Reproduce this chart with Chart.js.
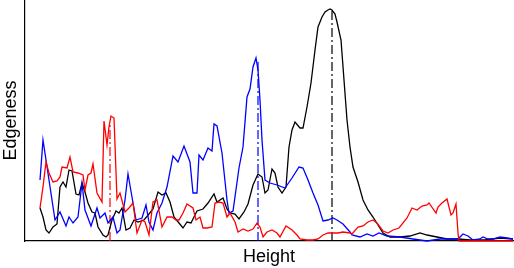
<!DOCTYPE html>
<html>
<head>
<meta charset="utf-8">
<script src="https://cdn.jsdelivr.net/npm/chart.js@4.4.1/dist/chart.umd.min.js"></script>
<style>
    html, body { margin: 0; padding: 0; background: #fff; }
    #wrap { width: 514px; height: 268px; }
</style>
</head>
<body>
<div id="wrap"><canvas id="edgeChart" width="514" height="268"></canvas></div>
<script>
// readings: height / edgeness for each curve
const blackHeight = [15, 18, 21, 24, 28, 32, 35, 38, 41, 44, 47, 51, 54, 57, 60, 63, 67, 70, 73, 78, 81, 83, 87, 91, 94, 97, 101, 105, 109, 113, 119, 124, 128, 133, 137, 141, 145, 149, 154, 158, 162, 166, 172, 178, 183, 189, 192, 198, 202, 205, 210, 214, 219, 223, 228, 233, 237, 240, 243, 247, 250, 253, 257, 261, 264, 267, 270, 275, 278, 282, 286, 290, 293, 297, 300, 303, 305, 307, 310, 312, 316, 319, 322, 325, 328, 333, 338, 343, 348, 353, 358, 365, 375, 385, 395, 402, 412, 422, 433, 445, 460, 475, 488];
const blackEdge = [33, 24, 11, 8, 14, 17, 54, 59, 54, 71, 70, 47, 46, 58, 49, 38, 29, 28, 14, 6, 4, 6, 21, 30, 28, 33, 11, 13, 21, 19, 21, 27, 32, 49, 46, 48, 39, 24, 18, 13, 19, 18, 30, 32, 38, 47, 39, 43, 32, 28, 27, 22, 29, 37, 56, 67, 64, 48, 51, 72, 68, 54, 48, 54, 94, 111, 119, 113, 113, 134, 158, 191, 214, 224, 229, 231, 232, 231, 227, 219, 201, 161, 121, 94, 74, 59, 41, 31, 24, 16, 8, 4, 4, 5, 8, 6, 4, 2, 2, 1, 1, 3, 2];

const blueHeight = [15, 18, 30, 35, 41, 44, 48, 53, 57, 60, 66, 72, 75, 80, 83, 88, 92, 95, 100, 103, 107, 111, 117, 121, 124, 128, 132, 137, 142, 148, 153, 159, 165, 168, 172, 174, 178, 183, 187, 189, 192, 197, 202, 204, 208, 214, 218, 222, 225, 228, 231, 233, 235, 237, 240, 245, 252, 260, 267, 274, 278, 283, 288, 293, 298, 303, 308, 312, 318, 325, 327, 335, 342, 348, 354, 362, 375, 388, 402, 415, 425, 433, 438, 443, 448, 455, 458, 463, 468, 475, 482, 488];
const blueEdge = [61, 101, 21, 29, 15, 24, 18, 24, 58, 31, 15, 33, 23, 28, 18, 24, 8, 11, 41, 67, 44, 21, 23, 36, 19, 11, 28, 38, 54, 85, 79, 95, 79, 48, 48, 86, 81, 93, 90, 117, 115, 88, 41, 28, 30, 73, 94, 144, 152, 174, 183, 171, 141, 101, 61, 58, 56, 53, 63, 74, 73, 61, 48, 36, 20, 21, 23, 21, 17, 9, 6, 4, 7, 5, 8, 5, 4, 2, 0, 2, 2, 2, 7, 5, 1, 2, 4, 2, 2, 4, 3, 2];

const redHeight = [15, 18, 21, 24, 28, 32, 35, 37, 42, 45, 48, 53, 58, 60, 63, 66, 68, 72, 77, 79, 82, 84, 86, 89, 92, 95, 100, 104, 108, 112, 117, 120, 124, 128, 132, 137, 142, 147, 151, 154, 158, 162, 168, 171, 175, 178, 182, 187, 190, 194, 198, 202, 205, 210, 213, 218, 223, 228, 232, 235, 238, 242, 247, 252, 255, 261, 267, 272, 275, 282, 288, 293, 298, 303, 308, 313, 318, 325, 327, 333, 338, 343, 348, 352, 358, 363, 368, 374, 382, 387, 392, 397, 402, 404, 411, 413, 417, 422, 426, 428, 431, 433, 434, 488];
const redEdge = [33, 54, 79, 68, 59, 60, 64, 74, 73, 84, 69, 68, 66, 51, 66, 68, 77, 48, 39, 120, 96, 114, 125, 123, 42, 48, 29, 33, 38, 8, 21, 19, 6, 39, 41, 14, 24, 24, 21, 21, 28, 37, 33, 21, 24, 13, 13, 14, 38, 39, 38, 24, 28, 19, 9, 12, 10, 12, 18, 14, 4, 9, 11, 8, 4, 15, 11, 6, 2, 1, 1, 2, 6, 8, 8, 8, 9, 8, 7, 14, 15, 19, 21, 18, 10, 8, 11, 13, 23, 33, 31, 35, 36, 38, 28, 34, 38, 42, 26, 28, 37, 8, 0, 0];

// peak markers: [height, top of marker]
const redPeak = [85, 116];
const bluePeak = [233, 181];
const blackPeak = [307, 231];

function toPoints(xs, ys) {
    return xs.map((x, i) => ({ x: x, y: ys[i] }));
}

function peakLine(peak, color) {
    return {
        data: [{ x: peak[0], y: 0 }, { x: peak[0], y: peak[1] }],
        borderColor: color,
        borderWidth: 1.2,
        borderDash: [9, 3, 2, 3],
        pointRadius: 0,
        fill: false
    };
}

function curve(xs, ys, color) {
    return {
        data: toPoints(xs, ys),
        borderColor: color,
        borderWidth: 1.3,
        pointRadius: 0,
        tension: 0,
        fill: false,
        clip: 3
    };
}

const ctx = document.getElementById('edgeChart');
new Chart(ctx, {
    type: 'line',
    data: {
        datasets: [
            curve(redHeight, redEdge, '#ff0000'),
            curve(blueHeight, blueEdge, '#0000ff'),
            curve(blackHeight, blackEdge, '#000000'),
            peakLine(redPeak, '#ff0000'),
            peakLine(bluePeak, '#0000ff'),
            peakLine(blackPeak, '#000000')
        ]
    },
    options: {
        responsive: false,
        animation: false,
        events: [],
        layout: { padding: { top: 0, right: 1, left: 0, bottom: 0 } },
        plugins: { legend: { display: false }, tooltip: { enabled: false } },
        scales: {
            x: {
                type: 'linear',
                min: 0,
                max: 488,
                grid: { display: false },
                border: { display: true, color: '#000', width: 1.2 },
                ticks: { display: false },
                title: {
                    display: true,
                    text: 'Height',
                    color: '#000',
                    font: { family: 'Liberation Sans', size: 18 },
                    padding: { top: 3, bottom: 0 }
                },
                afterFit: function (scale) { scale.height = 27; }
            },
            y: {
                min: 0,
                max: 241,
                grid: { display: false },
                border: { display: true, color: '#000', width: 1.2 },
                ticks: { display: false },
                title: {
                    display: true,
                    text: 'Edgeness',
                    color: '#000',
                    font: { family: 'Liberation Sans', size: 18 },
                    padding: { top: 0, bottom: 4 }
                },
                afterFit: function (scale) { scale.width = 25; }
            }
        }
    }
});
</script>
</body>
</html>
